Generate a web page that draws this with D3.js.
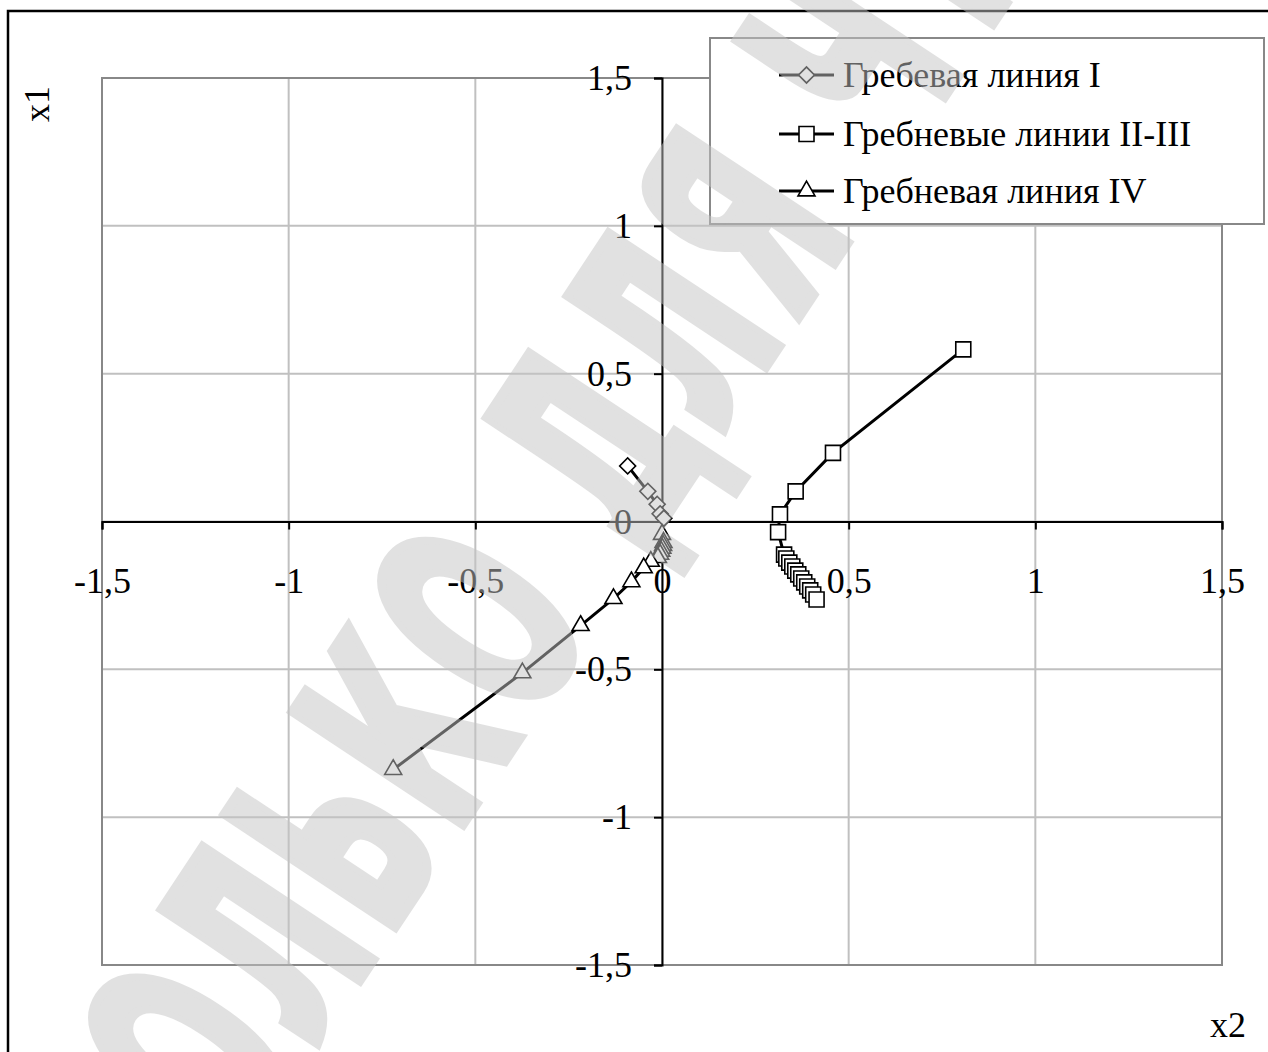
<!DOCTYPE html>
<html><head><meta charset="utf-8">
<script src="https://cdn.jsdelivr.net/npm/d3@7"></script>
<style>html,body{margin:0;padding:0;background:#fff;overflow:hidden}</style>
</head><body>
<svg id="chart" width="1268" height="1052"></svg>
<script>
// ---- data ----
const tickValues = [-1.5, -1, -0.5, 0, 0.5, 1, 1.5];
const seriesNames = ["Гребевая линия I", "Гребневые линии II-III", "Гребневая линия IV"];
const lineI_x2 = [-0.092, -0.038, -0.013, -0.005, 0.005];
const lineI_x1 = [0.188, 0.102, 0.058, 0.026, 0.011];
const lineII_x2 = [0.807, 0.458, 0.358, 0.316, 0.311, 0.327, 0.333, 0.341, 0.349, 0.357, 0.365, 0.373, 0.381, 0.389, 0.397, 0.405, 0.414];
const lineII_x1 = [0.582, 0.232, 0.102, 0.024, -0.036, -0.112, -0.125, -0.139, -0.152, -0.166, -0.179, -0.193, -0.206, -0.220, -0.233, -0.247, -0.264];
const lineIV_x2 = [0.000, 0.004, 0.003, 0.001, -0.002, -0.005, -0.011, -0.030, -0.049, -0.082, -0.130, -0.218, -0.374, -0.720];
const lineIV_x1 = [-0.044, -0.071, -0.081, -0.091, -0.101, -0.111, -0.122, -0.135, -0.157, -0.204, -0.261, -0.352, -0.512, -0.839];
const xAxisTitle = "x2";
const yAxisTitle = "x1";
const watermarkText = "ТОЛЬКО ДЛЯ ЧТЕНИЯ";

// ---- setup ----
const svg = d3.select("#chart");
const W = 1268, H = 1052;
const plot = {left: 102, right: 1222, top: 78, bottom: 965};
const x = d3.scaleLinear().domain([-1.5, 1.5]).range([plot.left, plot.right]);
const y = d3.scaleLinear().domain([-1.5, 1.5]).range([plot.bottom, plot.top]);
const serif = "'Liberation Serif','Times New Roman',serif";
const fs = 36;
const fmt = d => String(d).replace(".", ",");

svg.append("rect").attr("width", W).attr("height", H).attr("fill", "#fff");
// outer chart border (top and left visible)
svg.append("path").attr("d", `M8,${H} L8,11 L${W},11`).attr("fill", "none").attr("stroke", "#000").attr("stroke-width", 2.5);

// gridlines
const grid = svg.append("g");
grid.selectAll("line.v").data(tickValues).join("line")
  .attr("x1", d => x(d)).attr("x2", d => x(d)).attr("y1", plot.top).attr("y2", plot.bottom)
  .attr("stroke", "#c0c0c0").attr("stroke-width", 2);
grid.selectAll("line.h").data(tickValues).join("line")
  .attr("y1", d => y(d)).attr("y2", d => y(d)).attr("x1", plot.left).attr("x2", plot.right)
  .attr("stroke", "#c0c0c0").attr("stroke-width", 2);
svg.append("rect").attr("x", plot.left).attr("y", plot.top)
  .attr("width", plot.right - plot.left).attr("height", plot.bottom - plot.top)
  .attr("fill", "none").attr("stroke", "#888").attr("stroke-width", 2);

// axes
const yAxis = d3.axisLeft(y).tickValues(tickValues).tickSize(8).tickPadding(22).tickFormat(fmt);
const xAxis = d3.axisBottom(x).tickValues(tickValues).tickSize(8).tickPadding(38).tickFormat(fmt);
const gy = svg.append("g").attr("transform", `translate(${x(0)},0)`).call(yAxis);
const gx = svg.append("g").attr("transform", `translate(0,${y(0)})`).call(xAxis);
[gx, gy].forEach(g => {
  g.select(".domain").attr("stroke", "#000").attr("stroke-width", 2);
  g.selectAll(".tick line").attr("stroke", "#000").attr("stroke-width", 2);
  g.selectAll(".tick text").attr("font-family", serif).attr("font-size", fs).attr("fill", "#000");
});

// axis titles
svg.append("text").attr("x", 1228).attr("y", 1037).attr("text-anchor", "middle")
  .attr("font-family", serif).attr("font-size", fs).text(xAxisTitle);
svg.append("text").attr("transform", "translate(49,104) rotate(-90)").attr("text-anchor", "middle")
  .attr("font-family", serif).attr("font-size", fs).text(yAxisTitle);

// series
const series = [
  {name: seriesNames[0], xs: lineI_x2, ys: lineI_x1, sym: "diamond"},
  {name: seriesNames[1], xs: lineII_x2, ys: lineII_x1, sym: "square"},
  {name: seriesNames[2], xs: lineIV_x2, ys: lineIV_x1, sym: "triangle"}
];
function symPath(kind) {
  if (kind === "diamond") return d3.symbol(d3.symbolSquare, 128)();
  if (kind === "square") return d3.symbol(d3.symbolSquare, 225)();
  return d3.symbol(d3.symbolTriangle, 125)();
}
function symRot(kind) { return kind === "diamond" ? " rotate(45)" : ""; }
const line = d3.line().x(d => x(d[0])).y(d => y(d[1]));
series.forEach(s => {
  const pts = s.xs.map((v, i) => [v, s.ys[i]]);
  const g = svg.append("g");
  g.append("path").attr("d", line(pts)).attr("fill", "none").attr("stroke", "#000").attr("stroke-width", 3);
  g.selectAll("path.m").data(pts).join("path").attr("class", "m")
    .attr("d", symPath(s.sym))
    .attr("transform", d => `translate(${x(d[0])},${y(d[1])})${symRot(s.sym)}`)
    .attr("fill", "#fff").attr("stroke", "#000").attr("stroke-width", 1.6);
});

// legend
const lg = svg.append("g");
lg.append("rect").attr("x", 710).attr("y", 38).attr("width", 554).attr("height", 186)
  .attr("fill", "#fff").attr("stroke", "#888").attr("stroke-width", 2);
const rowY = [75, 134, 191];
series.forEach((s, i) => {
  lg.append("line").attr("x1", 779).attr("x2", 834).attr("y1", rowY[i]).attr("y2", rowY[i])
    .attr("stroke", "#000").attr("stroke-width", 3);
  lg.append("path").attr("d", symPath(s.sym))
    .attr("transform", `translate(806.5,${rowY[i]})${symRot(s.sym)}`)
    .attr("fill", "#fff").attr("stroke", "#000").attr("stroke-width", 1.6);
  lg.append("text").attr("x", 843).attr("y", rowY[i] + 12).attr("font-family", serif)
    .attr("font-size", fs).text(s.name);
});

// watermark overlay (semi-transparent, on top of everything)
const anchor = [266, 940];
const ang = -56.5;
const wmSize = 280;
const wmOuter = svg.append("g").attr("transform", `translate(${anchor[0]},${anchor[1]}) rotate(${ang})`)
  .attr("opacity", 0.5);
const wm = wmOuter.append("g");
const wt = wm.append("text").attr("x", 0).attr("y", 0)
  .attr("font-family", "'Liberation Sans Narrow','DejaVu Sans Condensed','Liberation Sans',sans-serif")
  .attr("font-weight", "bold").attr("font-size", wmSize).attr("fill", "#c4c4c4")
  .attr("stroke", "#c4c4c4").attr("stroke-width", 10).attr("stroke-linejoin", "miter")
  .text(watermarkText);
try {
  const n = wt.node();
  const c = i => { const e = n.getExtentOfChar(i); return e.x + e.width / 2; };
  const ls = 0.05 * wmSize;
  const a0 = c(5) - c(2), b0 = c(7) - c(2);
  const sx = 389 / (a0 + 3 * ls);
  const ws = 598 / sx - b0 - 5 * ls;
  wt.attr("letter-spacing", ls).attr("word-spacing", ws);
  const cc = c(2);
  wt.attr("x", -cc).attr("y", wmSize * 0.716 / 2);
  wm.attr("transform", `scale(${sx},1)`);
} catch (e) {}
</script>
</body></html>
